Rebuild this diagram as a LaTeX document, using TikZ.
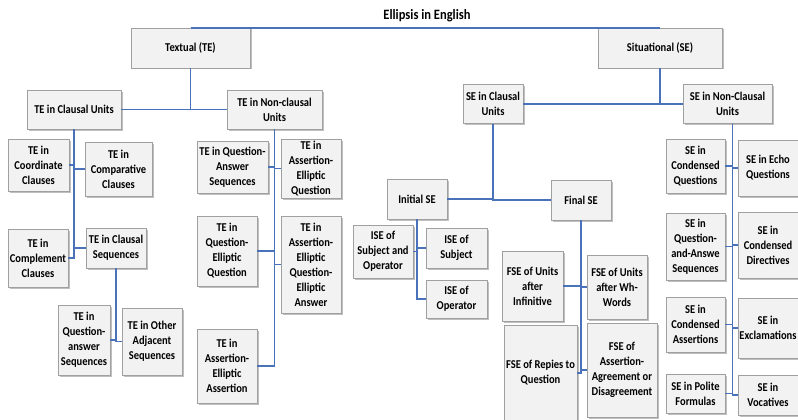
\documentclass[tikz,border=0pt]{standalone}
\usepackage{fontspec}
\setmainfont{Carlito}[FakeStretch=0.875]
\usetikzlibrary{shadows}
\definecolor{linkblue}{RGB}{74,114,187}
\definecolor{boxfill}{RGB}{242,242,242}
\definecolor{boxedge}{RGB}{160,160,160}

\begin{document}
\begin{tikzpicture}
[
  x=1pt,
  y=-1pt,
	box/.style={draw=boxedge,fill=boxfill,thin,align=center,inner sep=1pt,
	  font=\bfseries\fontsize{12}{15}\selectfont,
	  drop shadow={shadow xshift=1.5pt,shadow yshift=-1.5pt,opacity=0.45,fill=black!55}},
	wh/.style 2 args={minimum width=#1pt,minimum height=#2pt},
	conn/.style={draw=linkblue,line width=1.8pt}
]

\fill[white] (0,0) rectangle (798,420);
\clip (0,0) rectangle (798,420);

\node[font=\bfseries\fontsize{14.3}{16}\selectfont] (title) at (427,16) {Ellipsis in English};

\node[box,wh={119}{40}] (te) at (190.5,48) {Textual (TE)};
\node[box,wh={124}{40}] (se) at (660,48) {Situational (SE)};


\node[box,wh={94}{39}] (tecu) at (74,109.5) {TE in Clausal Units};
\node[box,wh={95}{39}] (tencu) at (274.5,109.5) {TE in Non-clausal\\Units};
\node[box,wh={60}{39}] (secu) at (493,104) {SE in Clausal\\Units};
\node[box,wh={89}{39}] (sencu) at (727.5,104) {SE in Non-Clausal\\Units};


\node[box,wh={61}{52}] (tecoord) at (38.5,165) {TE in\\Coordinate\\Clauses};
\node[box,wh={67}{54}] (tecomp) at (118.5,169) {TE in\\Comparative\\Clauses};
\node[box,wh={60}{58}] (tecompl) at (38,258) {TE in\\Complement\\Clauses};
\node[box,wh={60}{40}] (tecseq) at (116,248) {TE in Clausal\\Sequences};

\node[box,wh={52}{70}] (teqaseq) at (84,340) {TE in\\Question-\\answer\\Sequences};
\node[box,wh={60}{67}] (teoaseq) at (152,341.5) {TE in Other\\Adjacent\\Sequences};


\node[box,wh={71}{52}] (teqaseqb) at (232.5,167) {TE in Question-\\Answer\\Sequences};
\node[box,wh={60}{59}] (teaeq) at (311,168.5) {TE in\\Assertion-\\Elliptic\\Question};
\node[box,wh={60}{70}] (teqeq) at (227,251) {TE in\\Question-\\Elliptic\\Question};
\node[box,wh={60}{97}] (teaeqea) at (311,264.5) {TE in\\Assertion-\\Elliptic\\Question-\\Elliptic\\Answer};
\node[box,wh={60}{74}] (teaea) at (227,366) {TE in\\Assertion-\\Elliptic\\Assertion};


\node[box,wh={60}{40}] (inse) at (417,199) {Initial SE};
\node[box,wh={60}{40}] (finse) at (581,200) {Final SE};

\node[box,wh={60}{53}] (isesubop) at (383,251.5) {ISE of\\Subject and\\Operator};
\node[box,wh={61}{40}] (isesub) at (456.5,248) {ISE of\\Subject};
\node[box,wh={61}{38}] (iseop) at (456.5,299) {ISE of\\Operator};

\node[box,wh={61}{70}] (fseinf) at (532.5,286) {FSE of Units\\after\\Infinitive};
\node[box,wh={60}{64}] (fsewh) at (617,287) {FSE of Units\\after Wh-\\Words};
\node[box,wh={73}{96}] (fserep) at (540.5,373) {FSE of Repies to\\Question};
\node[box,wh={70}{94}] (fseagr) at (622,370) {FSE of\\Assertion-\\Agreement or\\Disagreement};


\node[box,wh={59}{54}] (secq) at (695.5,166) {SE in\\Condensed\\Questions};
\node[box,wh={60}{56}] (seeq) at (768,168) {SE in Echo\\Questions};
\node[box,wh={59}{67}] (seqaseq) at (695.5,246.5) {SE in\\Question-\\and-Answe\\Sequences};
\node[box,wh={60}{66}] (secd) at (768,245) {SE in\\Condensed\\Directives};
\node[box,wh={59}{55}] (seca) at (695.5,324.5) {SE in\\Condensed\\Assertions};
\node[box,wh={60}{60}] (seex) at (768,328) {SE in\\Exclamations};
\node[box,wh={59}{39}] (sepf) at (695.5,393.5) {SE in Polite\\Formulas};
\node[box,wh={60}{40}] (sevoc) at (768,395) {SE in\\Vocatives};


\draw[conn] (te.north) -- (se.north);
\draw[conn] (te.south) |- (tecu.east);
\draw[conn] (te.south) |- (tencu.west);
\draw[conn] (se.south) |- (secu.east);
\draw[conn] (se.south) |- (sencu.west);

\draw[conn] (tecu.south) |- (tecoord.east);
\draw[conn] (tecu.south) |- (tecomp.west);
\draw[conn] (tecu.south) |- (tecompl.east);
\draw[conn] (tecu.south) |- (tecseq.west);
\draw[conn] (tecseq.south) |- (teqaseq.east);
\draw[conn] (tecseq.south) |- (teoaseq.west);

\draw[conn] (tencu.south) |- (teqaseqb.east);
\draw[conn] (tencu.south) |- (teaeq.west);
\draw[conn] (tencu.south) |- (teqeq.east);
\draw[conn] (tencu.south) |- (teaeqea.west);
\draw[conn] (tencu.south) |- (teaea.east);

\draw[conn] (secu.south) |- (inse.east);
\draw[conn] (secu.south) |- (finse.west);
\draw[conn] (inse.south) |- (isesubop.east);
\draw[conn] (inse.south) |- (isesub.west);
\draw[conn] (inse.south) |- (iseop.west);
\draw[conn] (finse.south) |- (fseinf.east);
\draw[conn] (finse.south) |- (fsewh.west);
\draw[conn] (finse.south) |- (fserep.east);
\draw[conn] (finse.south) |- (fseagr.west);

\draw[conn] ([xshift=5pt]sencu.south) |- (secq.east);
\draw[conn] ([xshift=5pt]sencu.south) |- (seeq.west);
\draw[conn] ([xshift=5pt]sencu.south) |- (seqaseq.east);
\draw[conn] ([xshift=5pt]sencu.south) |- (secd.west);
\draw[conn] ([xshift=5pt]sencu.south) |- (seca.east);
\draw[conn] ([xshift=5pt]sencu.south) |- (seex.west);
\draw[conn] ([xshift=5pt]sencu.south) |- (sepf.east);
\draw[conn] ([xshift=5pt]sencu.south) |- (sevoc.west);

\end{tikzpicture}
\end{document}
